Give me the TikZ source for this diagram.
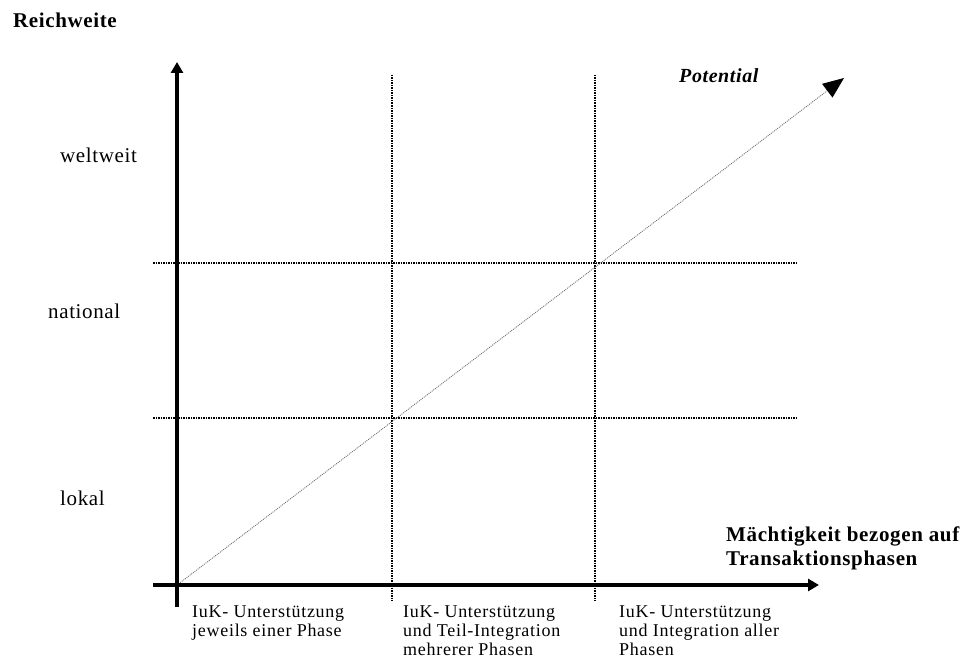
\documentclass[tikz,border=0pt]{standalone}
\usepackage{fontspec}
\setmainfont{Liberation Serif}
\newfontfamily\lblfont[LetterSpace=3]{Liberation Serif}
\newfontfamily\botfont[LetterSpace=4]{Liberation Serif}
\newfontfamily\boldfont[LetterSpace=3]{Liberation Serif}
\usetikzlibrary{arrows.meta}
\begin{document}
\begin{tikzpicture}[x=1pt,y=-1pt,
  axisline/.style={line width=4pt,-{Triangle[length=11pt,width=12pt]}},
  gridline/.style={line width=1.5pt,dash pattern=on 1.5pt off 1pt},
  diagline/.style={line width=0.8pt,black!60,dash pattern=on 1pt off 1pt,-{Triangle[length=21pt,width=17pt,color=black]}},
  leftlbl/.style={anchor=base west,inner sep=0pt,font=\lblfont\fontsize{21}{21}\selectfont},
  botlbl/.style={anchor=north west,inner sep=0pt,align=left,font=\botfont\fontsize{18}{19}\selectfont},
  boldlbl/.style={anchor=base west,inner sep=0pt,font=\boldfont\bfseries\fontsize{21}{24}\selectfont}
]
\useasboundingbox (0,0) rectangle (970,661);
% coordinates
\coordinate (O) at (177,585);
\coordinate (ybot) at (177,607);
\coordinate (ytop) at (177,62);
\coordinate (xbeg) at (153,585);
\coordinate (xend) at (819,585);
\coordinate (v1t) at (392,75);
\coordinate (v1b) at (392,601);
\coordinate (v2t) at (595,75);
\coordinate (v2b) at (595,601);
\coordinate (h1l) at (153,263);
\coordinate (h1r) at (796,263);
\coordinate (h2l) at (153,418);
\coordinate (h2r) at (796,418);
\coordinate (dend) at (844,78);
% grid
\draw[gridline] (v1t) -- (v1b);
\draw[gridline] (v2t) -- (v2b);
\draw[gridline] (h1l) -- (h1r);
\draw[gridline] (h2l) -- (h2r);
% diagonal
\draw[diagline] (O) -- (dend);
% axes
\draw[axisline] (ybot) -- (ytop);
\draw[axisline] (xbeg) -- (xend);
% labels
\node[boldlbl] (reich) at (13,28) {Reichweite};
\node[leftlbl] (welt) at (60,162) {weltweit};
\node[leftlbl] (nat) at (48,318) {national};
\node[leftlbl] (lok) at (60,505) {lokal};
\node[boldlbl,font=\boldfont\bfseries\itshape\fontsize{20}{24}\selectfont] (pot) at (679,83) {Potential};
\node[boldlbl] (mae1) at (726,541) {Mächtigkeit bezogen auf};
\node[boldlbl] (mae2) at (726,565) {Transaktionsphasen};
\node[botlbl] (b1) at (192,606) {IuK- Unterstützung\\jeweils einer Phase};
\node[botlbl] (b2) at (403,606) {IuK- Unterstützung\\und Teil-Integration\\mehrerer Phasen};
\node[botlbl] (b3) at (619,606) {IuK- Unterstützung\\und Integration aller\\Phasen};
\end{tikzpicture}
\end{document}
